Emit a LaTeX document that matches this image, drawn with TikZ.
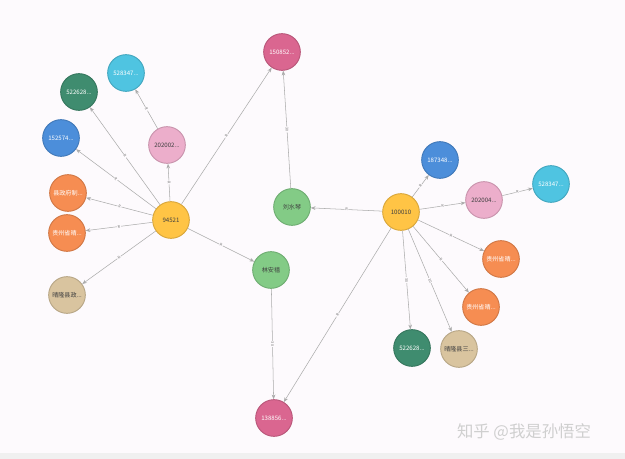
\documentclass[tikz,border=0pt]{standalone}
\usepackage{fontspec}
\setmainfont{Noto Sans CJK SC}
\usetikzlibrary{arrows.meta}
\definecolor{pagebg}{HTML}{FDFAFD}
\definecolor{edgegray}{HTML}{ABABAB}
\definecolor{caseyel}{HTML}{FFC445}
\definecolor{phonered}{HTML}{DA6690}
\definecolor{idteal}{HTML}{3F8C6F}
\definecolor{cardblue}{HTML}{4C8EDA}
\definecolor{skycyan}{HTML}{4FC4E1}
\definecolor{datepink}{HTML}{ECAECB}
\definecolor{orgorange}{HTML}{F68D52}
\definecolor{placetan}{HTML}{D9C49F}
\definecolor{persgreen}{HTML}{83CB86}
\definecolor{marktext}{HTML}{CFCFCF}

\begin{document}
\begin{tikzpicture}[x=0.03cm, y=-0.03cm, >={Stealth[length=1.4mm, width=1.1mm]},
  ent/.style={circle, fill=#1, draw=#1!85!black, line width=0.8pt,
              minimum size=1.1cm, inner sep=0pt, text=white,
              font=\fontsize{5.2}{6}\selectfont},
  dkent/.style={ent=#1, text=black!75},
  rel/.style={->, edgegray, line width=0.45pt},
  lbl/.style={sloped, font=\fontsize{3.2}{3.5}\selectfont, text=black!55,
              fill=pagebg, inner sep=0.6pt}]

% Background
\fill[pagebg] (0,0) rectangle (625,459);
\fill[black!6] (0,453) rectangle (625,459);
\useasboundingbox (0,0) rectangle (625,459);

% first case
\node[dkent=caseyel] (caseA) at (171,220) {94521};
\node[ent=phonered] (phoneA) at (282,52) {150852...};
\node[ent=skycyan] (skyA) at (126,73) {528347...};
\node[ent=idteal] (idA) at (79,92) {522628...};
\node[ent=cardblue] (cardA) at (61,138) {152574...};
\node[dkent=datepink] (dateA) at (167,145) {202002...};
\node[ent=orgorange] (orgA) at (68,193) {县政府制...};
\node[ent=orgorange] (orgB) at (67,233) {贵州省晴...};
\node[dkent=placetan] (placeA) at (67,295) {晴隆县政...};
\node[dkent=persgreen] (persA) at (292,207) {刘水琴};
\node[dkent=persgreen] (persB) at (271,270) {林安禧};
\node[ent=phonered] (phoneB) at (274,418) {138856...};

% second case
\node[dkent=caseyel] (caseB) at (401,212) {100010};
\node[ent=cardblue] (cardB) at (440,160) {187348...};
\node[dkent=datepink] (dateB) at (484,200) {202004...};
\node[ent=skycyan] (skyB) at (551,184) {528347...};
\node[ent=orgorange] (orgC) at (501,259) {贵州省晴...};
\node[ent=orgorange] (orgD) at (481,307) {贵州省晴...};
\node[ent=idteal] (idB) at (412,348) {522628...};
\node[dkent=placetan] (placeB) at (459,349) {晴隆县三...};

% relations
\draw[rel] (caseA) -- node[lbl] {R} (phoneA);
\draw[rel] (caseA) -- node[lbl] {R} (idA);
\draw[rel] (caseA) -- node[lbl] {R} (cardA);
\draw[rel] (caseA) -- node[lbl] {R} (dateA);
\draw[rel] (dateA) -- node[lbl] {R} (skyA);
\draw[rel] (caseA) -- node[lbl] {R} (orgA);
\draw[rel] (caseA) -- node[lbl] {R} (orgB);
\draw[rel] (caseA) -- node[lbl] {R} (placeA);
\draw[rel] (caseA) -- node[lbl] {R} (persB);
\draw[rel] (persA) -- node[lbl] {30} (phoneA);
\draw[rel] (persB) -- node[lbl] {30} (phoneB);
\draw[rel] (caseB) -- node[lbl] {R} (persA);
\draw[rel] (caseB) -- node[lbl] {R} (phoneB);
\draw[rel] (caseB) -- node[lbl] {R} (cardB);
\draw[rel] (caseB) -- node[lbl] {R} (dateB);
\draw[rel] (dateB) -- node[lbl] {R} (skyB);
\draw[rel] (caseB) -- node[lbl] {R} (orgC);
\draw[rel] (caseB) -- node[lbl] {R} (orgD);
\draw[rel] (caseB) -- node[lbl] {30} (idB);
\draw[rel] (caseB) -- node[lbl] {30} (placeB);

% watermark
\node[text=marktext, font=\fontsize{14}{15}\selectfont] (mark) at (524,432) {知乎 @我是孙悟空};

\end{tikzpicture}
\end{document}
